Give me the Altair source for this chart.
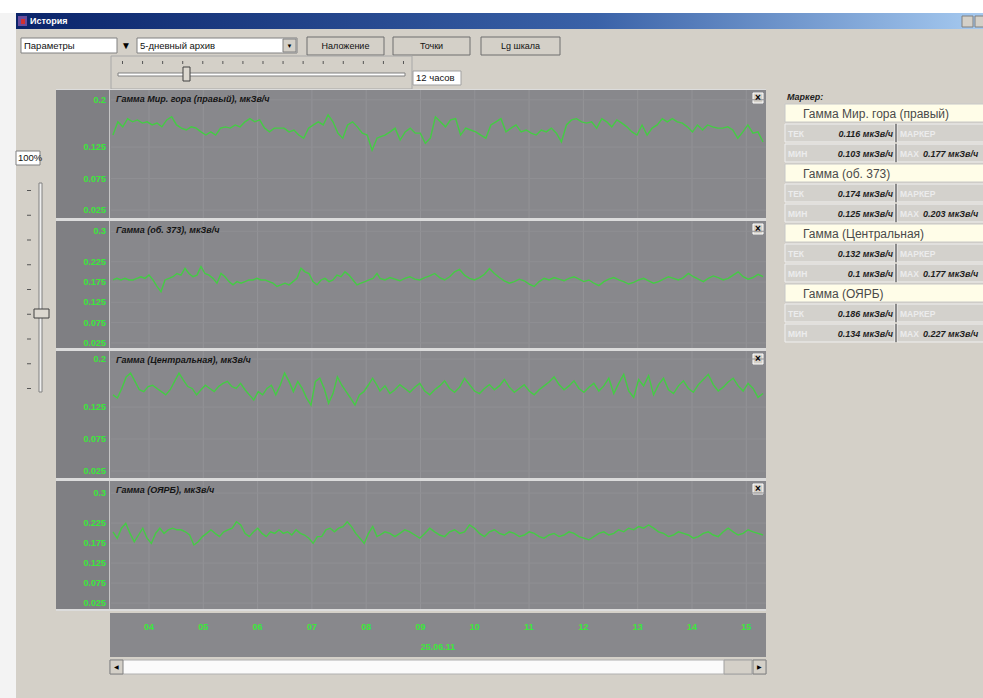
import altair as alt
import numpy as np
import pandas as pd

# ---------------- data ----------------
hours = list(range(4, 16))
hour_labels = [f"{h:02d}" for h in hours]
date_label = "25.06.11"

series_names = ["Гамма Мир. гора (правый)", "Гамма (об. 373)",
                "Гамма (Центральная)", "Гамма (ОЯРБ)"]
unit = "мкЗв/ч"

tick_values = [
    [0.2, 0.125, 0.075, 0.025],
    [0.3, 0.225, 0.175, 0.125, 0.075, 0.025],
    [0.2, 0.125, 0.075, 0.025],
    [0.3, 0.225, 0.175, 0.125, 0.075, 0.025],
]

cur_vals = [0.116, 0.174, 0.132, 0.186]
min_vals = [0.103, 0.125, 0.1, 0.134]
max_vals = [0.177, 0.203, 0.177, 0.227]

# dose rate, morning part (~03:20 - 08:12) and day part (~08:15 - 15:18)
p1_morning = [0.144, 0.165, 0.157, 0.170, 0.165, 0.168, 0.163, 0.165, 0.160, 0.163,
              0.157, 0.168, 0.173, 0.160, 0.155, 0.152, 0.157, 0.155, 0.149, 0.144,
              0.149, 0.144, 0.155, 0.157, 0.155, 0.160, 0.157, 0.165, 0.170, 0.165,
              0.168, 0.155, 0.149, 0.155, 0.155, 0.155, 0.149, 0.152, 0.144, 0.139,
              0.155, 0.160, 0.165, 0.160, 0.176, 0.165, 0.147, 0.139, 0.160, 0.165,
              0.157, 0.147, 0.144, 0.120, 0.139]
p1_day = [0.141, 0.144, 0.149, 0.155, 0.136, 0.149, 0.155, 0.147, 0.147, 0.131,
          0.139, 0.173, 0.165, 0.157, 0.168, 0.170, 0.144, 0.155, 0.152, 0.149,
          0.144, 0.139, 0.160, 0.165, 0.170, 0.149, 0.155, 0.160, 0.149, 0.152,
          0.147, 0.144, 0.152, 0.149, 0.155, 0.147, 0.133, 0.160, 0.168, 0.170,
          0.165, 0.163, 0.165, 0.155, 0.170, 0.165, 0.157, 0.168, 0.163, 0.157,
          0.149, 0.144, 0.160, 0.144, 0.155, 0.160, 0.170, 0.165, 0.170, 0.165,
          0.163, 0.157, 0.149, 0.160, 0.152, 0.160, 0.157, 0.155, 0.155, 0.157,
          0.152, 0.139, 0.149, 0.160, 0.147, 0.149, 0.133]

p2_morning = [0.180, 0.184, 0.180, 0.184, 0.180, 0.180, 0.184, 0.188, 0.184, 0.192,
              0.180, 0.164, 0.151, 0.180, 0.184, 0.188, 0.196, 0.192, 0.209, 0.196,
              0.188, 0.192, 0.213, 0.196, 0.192, 0.184, 0.172, 0.196, 0.188, 0.176,
              0.168, 0.176, 0.172, 0.176, 0.180, 0.180, 0.184, 0.180, 0.180, 0.176,
              0.172, 0.164, 0.168, 0.172, 0.168, 0.176, 0.184, 0.209, 0.200, 0.196,
              0.176, 0.168, 0.180, 0.184, 0.176, 0.180, 0.192, 0.188, 0.200, 0.192,
              0.180, 0.168, 0.172, 0.176, 0.180, 0.184, 0.196]
p2_day = [0.184, 0.180, 0.186, 0.182, 0.178, 0.184, 0.188, 0.182, 0.180, 0.186,
          0.190, 0.196, 0.186, 0.180, 0.188, 0.200, 0.206, 0.192, 0.184, 0.180,
          0.186, 0.194, 0.208, 0.196, 0.186, 0.178, 0.172, 0.176, 0.182, 0.178,
          0.170, 0.164, 0.176, 0.184, 0.180, 0.186, 0.182, 0.178, 0.184, 0.188,
          0.182, 0.176, 0.180, 0.172, 0.166, 0.176, 0.182, 0.186, 0.180, 0.176,
          0.170, 0.174, 0.180, 0.184, 0.178, 0.172, 0.176, 0.182, 0.188, 0.184,
          0.180, 0.186, 0.196, 0.188, 0.182, 0.176, 0.184, 0.190, 0.186, 0.180,
          0.184, 0.192, 0.200, 0.188, 0.182, 0.186, 0.194, 0.188]

p3_morning = [0.144, 0.139, 0.154, 0.172, 0.178, 0.165, 0.152, 0.149, 0.157, 0.159,
              0.154, 0.149, 0.144, 0.152, 0.165, 0.178, 0.167, 0.157, 0.154, 0.144,
              0.152, 0.159, 0.154, 0.149, 0.157, 0.162, 0.165, 0.157, 0.154, 0.162,
              0.152, 0.144, 0.136, 0.149, 0.144, 0.154, 0.159, 0.144, 0.159, 0.178,
              0.165, 0.149, 0.165, 0.154, 0.139, 0.128, 0.165, 0.170, 0.154, 0.131,
              0.146, 0.172, 0.159, 0.149, 0.139, 0.128, 0.144, 0.149, 0.159, 0.170,
              0.159]
p3_day = [0.150, 0.158, 0.146, 0.152, 0.160, 0.154, 0.148, 0.156, 0.162, 0.150,
          0.144, 0.152, 0.158, 0.166, 0.154, 0.148, 0.156, 0.170, 0.160, 0.150,
          0.146, 0.154, 0.160, 0.152, 0.158, 0.168, 0.156, 0.148, 0.154, 0.160,
          0.150, 0.144, 0.152, 0.158, 0.164, 0.172, 0.160, 0.152, 0.158, 0.166,
          0.154, 0.148, 0.156, 0.162, 0.150, 0.158, 0.170, 0.146, 0.162, 0.176,
          0.150, 0.140, 0.168, 0.158, 0.174, 0.144, 0.160, 0.170, 0.152, 0.146,
          0.158, 0.166, 0.154, 0.148, 0.160, 0.168, 0.176, 0.160, 0.150, 0.156,
          0.164, 0.170, 0.158, 0.150, 0.162, 0.154, 0.140, 0.146]

p4_morning = [0.203, 0.187, 0.212, 0.224, 0.199, 0.178, 0.195, 0.212, 0.187, 0.174,
              0.199, 0.212, 0.199, 0.208, 0.212, 0.208, 0.208, 0.203, 0.195, 0.170,
              0.178, 0.191, 0.199, 0.208, 0.199, 0.191, 0.203, 0.208, 0.212, 0.228,
              0.220, 0.199, 0.191, 0.203, 0.212, 0.199, 0.191, 0.203, 0.199, 0.208,
              0.199, 0.203, 0.195, 0.208, 0.199, 0.195, 0.187, 0.174, 0.191, 0.191,
              0.208, 0.212, 0.203, 0.212, 0.216, 0.228, 0.216, 0.199, 0.187, 0.174,
              0.199, 0.216, 0.191]
p4_day = [0.195, 0.203, 0.199, 0.191, 0.199, 0.208, 0.203, 0.195, 0.187, 0.199,
          0.212, 0.203, 0.195, 0.191, 0.203, 0.208, 0.199, 0.203, 0.220, 0.212,
          0.199, 0.191, 0.203, 0.208, 0.199, 0.195, 0.203, 0.199, 0.191, 0.195,
          0.203, 0.199, 0.191, 0.187, 0.195, 0.199, 0.191, 0.195, 0.203, 0.199,
          0.191, 0.187, 0.183, 0.191, 0.199, 0.203, 0.195, 0.199, 0.208, 0.203,
          0.212, 0.208, 0.216, 0.212, 0.220, 0.212, 0.203, 0.199, 0.191, 0.195,
          0.203, 0.199, 0.195, 0.187, 0.191, 0.199, 0.203, 0.195, 0.191, 0.203,
          0.212, 0.203, 0.195, 0.199, 0.208, 0.203, 0.199, 0.195]

series_parts = [(p1_morning, p1_day), (p2_morning, p2_day),
                (p3_morning, p3_day), (p4_morning, p4_day)]
morning_span = (3.337, 8.199)
day_span = (8.254, 15.308)

# ---------------- layout / style ----------------
W, H = 983, 698
FONT = "Liberation Sans"
GREEN_LINE = "#44cc44"
GREEN_TEXT = "#3ae83a"
PLOT_BG = "#88888c"
STRIP_BG = "#7f7f83"
GRID = "#939397"

time_domain = [3.282, 15.363]
x_left, x_right = 110, 766
panel_top = [90, 221, 351, 481]
panel_bottom = [218, 348, 478, 609]
y_domains = [[0.0123, 0.2155], [0.0124, 0.3253], [0.0141, 0.2125], [0.010, 0.330]]


def xscale():
    return alt.Scale(domain=time_domain, range=[x_left, x_right], nice=False, zero=False)


def rect_layer(rows):
    df = pd.DataFrame(rows, columns=["x", "x2", "y", "y2", "fill", "stroke"])
    return alt.Chart(df).mark_rect(strokeWidth=1).encode(
        x=alt.X("x:Q", scale=None, axis=None), x2="x2:Q",
        y=alt.Y("y:Q", scale=None, axis=None), y2="y2:Q",
        fill=alt.Fill("fill:N", scale=None, legend=None),
        stroke=alt.Stroke("stroke:N", scale=None, legend=None),
    )


def text_layer(rows, **kw):
    df = pd.DataFrame(rows, columns=["x", "y", "text"])
    opts = dict(font=FONT, baseline="middle", align="left")
    opts.update(kw)
    return alt.Chart(df).mark_text(**opts).encode(
        x=alt.X("x:Q", scale=None, axis=None),
        y=alt.Y("y:Q", scale=None, axis=None),
        text="text:N",
    )


layers = []
T = "transparent"
WIN = "#d4d0c8"

# window frame and title bar
layers.append(rect_layer([
    (0, W, 0, 13, "#ffffff", T),
    (0, 16, 13, H, "#f3f3f3", T),
]))
layers.append(
    alt.Chart(pd.DataFrame({"k": [0]})).mark_rect(
        color=alt.Gradient(
            gradient="linear",
            stops=[alt.GradientStop(color="#0a246a", offset=0),
                   alt.GradientStop(color="#3a62a8", offset=0.6),
                   alt.GradientStop(color="#a6caf0", offset=1)],
            x1=0, x2=1, y1=0, y2=0)
    ).encode(x=alt.value(16), x2=alt.value(W), y=alt.value(13), y2=alt.value(29))
)
layers.append(rect_layer([
    (18, 27, 16, 26, "#6a4c9c", T),
    (21, 25, 19, 24, "#d03030", T),
    (962, 973, 16, 27, WIN, "#808080"),
    (975, 986, 16, 27, WIN, "#808080"),
]))
layers.append(text_layer([(30, 21, "История")], color="#ffffff", fontSize=9, fontWeight="bold"))

# toolbar
toolbar = [
    (21, 117, 38, 53, "#ffffff", "#808080"),
    (137, 297, 38, 53, "#ffffff", "#808080"),
    (283, 296, 39, 52, WIN, "#808080"),
    (307, 384, 37, 55, WIN, "#6f6f6f"),
    (393, 470, 37, 55, WIN, "#6f6f6f"),
    (481, 560, 37, 55, WIN, "#6f6f6f"),
    (111, 412, 56, 89, WIN, "#a8a8a8"),
    (118, 405, 73, 76, "#ffffff", "#808080"),
    (183, 190, 67, 81, "#dcd8d0", "#404040"),
    (413, 461, 71, 85, "#ffffff", "#a0a0a0"),
]
toolbar += [(122 + 20.07 * k, 123 + 20.07 * k, 61, 64, "#555555", T) for k in range(15)]
# vertical zoom slider
toolbar += [
    (16, 40, 151, 165, "#ffffff", "#808080"),
    (39, 42, 183, 392, "#f0f0f0", "#808080"),
    (34, 49, 309, 318, "#dcd8d0", "#404040"),
]
toolbar += [(27, 31, 190 + 24.75 * k, 191 + 24.75 * k, "#555555", T) for k in range(9)]
layers.append(rect_layer(toolbar))
layers.append(text_layer([(24, 45.5, "Параметры"), (140, 45.5, "5-дневный архив"),
                          (416, 78, "12 часов"), (18, 158, "100%")],
                         color="#111111", fontSize=9.5))
layers.append(text_layer([(126, 45.5, "▼")], color="#000000", fontSize=10, align="center"))
layers.append(text_layer([(289.5, 45.5, "▼")], color="#000000", fontSize=6, align="center"))
layers.append(text_layer([(345.5, 46, "Наложение"), (431.5, 46, "Точки"), (520.5, 46, "Lg шкала")],
                         color="#111111", fontSize=9, align="center"))

# chart block backgrounds
block = [(56, x_right, 89, 611, "#dcdcdc", T)]
for top, bot in zip(panel_top, panel_bottom):
    block += [
        (56, 109, top, bot, STRIP_BG, T),
        (x_left, x_right, top, bot, PLOT_BG, T),
        (109, 110, top, bot, "#c4c4c4", T),
        (753, 763, top + 3, top + 13, WIN, "#ffffff"),
    ]
block += [
    (x_left, x_right, 613, 657, PLOT_BG, T),
    (x_left, x_right, 660, 674, "#fbfbfb", "#b0b0b0"),
    (x_left, 123, 660, 674, WIN, "#808080"),
    (724, 752, 660, 674, WIN, "#a0a0a0"),
    (753, x_right, 660, 674, WIN, "#808080"),
]
layers.append(rect_layer(block))

# one panel per detector
for i, (name, (morning, day)) in enumerate(zip(series_names, series_parts)):
    top, bot = panel_top[i], panel_bottom[i]
    ysc = alt.Scale(domain=y_domains[i], range=[bot, top], nice=False, zero=False)
    t = np.concatenate([np.linspace(*morning_span, len(morning)),
                        np.linspace(*day_span, len(day))])
    v = np.array(morning + day)
    line_df = pd.DataFrame({"t": t, "v": v})
    hours_df = pd.DataFrame({"h": hours})
    ticks_df = pd.DataFrame({"v": tick_values[i], "lab": [f"{x:g}" for x in tick_values[i]]})

    layers.append(alt.Chart(hours_df).mark_rule(color=GRID, strokeWidth=1).encode(
        x=alt.X("h:Q", scale=xscale(), axis=None),
        y=alt.value(top), y2=alt.value(bot)))
    layers.append(alt.Chart(ticks_df).mark_rule(color="#8f8f93", strokeWidth=1).encode(
        y=alt.Y("v:Q", scale=ysc, axis=None),
        x=alt.value(x_left + 1), x2=alt.value(x_right)))
    layers.append(alt.Chart(ticks_df).mark_text(
        font=FONT, fontSize=9, fontWeight="bold", color=GREEN_TEXT,
        align="right", baseline="middle").encode(
        y=alt.Y("v:Q", scale=ysc, axis=None), x=alt.value(106), text="lab:N"))
    layers.append(alt.Chart(line_df).mark_line(
        color=GREEN_LINE, strokeWidth=1.4, clip=True, interpolate="linear").encode(
        x=alt.X("t:Q", scale=xscale(), axis=None),
        y=alt.Y("v:Q", scale=ysc, axis=None)))
    layers.append(text_layer([(116, top + 9, f"{name}, {unit}")],
                             color="#141414", fontSize=9, fontStyle="italic", fontWeight="bold"))
    layers.append(text_layer([(758, top + 8, "×")], color="#000000", fontSize=10,
                             fontWeight="bold", align="center"))

# time axis
hours_lab_df = pd.DataFrame({"h": hours, "lab": hour_labels})
layers.append(alt.Chart(hours_lab_df).mark_text(
    font=FONT, fontSize=9, fontWeight="bold", color=GREEN_TEXT, baseline="middle").encode(
    x=alt.X("h:Q", scale=xscale(), axis=None), y=alt.value(627), text="lab:N"))
layers.append(text_layer([(438, 647, date_label)], color=GREEN_TEXT, fontSize=9,
                         fontWeight="bold", align="center"))
layers.append(text_layer([(116.5, 667, "◀"), (759.5, 667, "▶")], color="#000000",
                         fontSize=6, align="center"))

# marker readout panel
marker_rects, name_rows, faint_rows, val_right, val_left = [], [], [], [], []
for g, name in enumerate(series_names):
    y0 = 104 + 60 * g
    marker_rects.append((785, 990, y0, y0 + 18, "#fffde8", "#c8c8c8"))
    name_rows.append((803, y0 + 9.5, name))
    for r, (lab_l, lab_r, vl, vr) in enumerate([
            ("ТЕК", "МАРКЕР", cur_vals[g], None),
            ("МИН", "МАХ", min_vals[g], max_vals[g])]):
        yr = y0 + 20 * (r + 1)
        marker_rects += [(785, 895, yr, yr + 18, "#d3d1cc", "#f0f0f0"),
                         (897, 990, yr, yr + 18, "#d3d1cc", "#f0f0f0"),
                         (895, 897, yr, yr + 18, "#8a8a8a", T)]
        faint_rows += [(788, yr + 9.5, lab_l), (900, yr + 9.5, lab_r)]
        val_right.append((893, yr + 9.5, f"{vl:g} {unit}"))
        if vr is not None:
            val_left.append((923, yr + 9.5, f"{vr:g} {unit}"))
layers.append(rect_layer(marker_rects))
layers.append(text_layer([(787, 97, "Маркер:")], color="#222222", fontSize=9,
                         fontStyle="italic", fontWeight="bold"))
layers.append(text_layer(name_rows, color="#4a4a4a", fontSize=12))
layers.append(text_layer(faint_rows, color="#ececec", fontSize=8.5, fontWeight="bold"))
layers.append(text_layer(val_right, color="#1e1e1e", fontSize=9, fontStyle="italic",
                         fontWeight="bold", align="right"))
layers.append(text_layer(val_left, color="#1e1e1e", fontSize=9, fontStyle="italic",
                         fontWeight="bold"))

chart = alt.layer(*layers).resolve_scale(
    x="independent", y="independent", fill="independent", stroke="independent",
    color="independent",
).properties(
    width=W, height=H, padding=0, background=WIN,
    autosize=alt.AutoSizeParams(type="none"),
).configure_view(stroke=None)

chart.save("out.html", embed_options={"renderer": "svg", "actions": False})
